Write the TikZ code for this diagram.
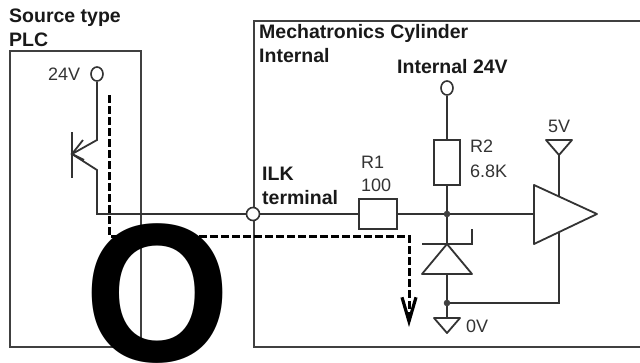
\documentclass[tikz,border=0pt]{standalone}
\usepackage{fontspec}
\setmainfont{Liberation Sans}
\usetikzlibrary{arrows.meta,shapes.geometric}
\tikzset{
	wire/.style={draw=black!80,line width=1.8pt},
	boxline/.style={draw=black!75,line width=1.8pt},
	flow/.style={draw=black,line width=3pt,dash pattern=on 8pt off 3pt},
	pin/.style={ellipse,draw=black!80,line width=1.6pt,fill=white,minimum width=12pt,minimum height=14pt,inner sep=0pt},
	dot/.style={circle,draw=black!80,fill=black!75,minimum size=6pt,inner sep=0pt},
	res/.style={rectangle,draw=black!80,line width=1.6pt,fill=white,inner sep=0pt},
	head/.style={anchor=base west,inner sep=0pt,text=black!90,font=\fontsize{19.5}{19.5}\selectfont\bfseries},
	lab/.style={anchor=base west,inner sep=0pt,text=black!80,font=\fontsize{18}{18}\selectfont}
}
\begin{document}
\begin{tikzpicture}[x=1pt,y=-1pt]
	\useasboundingbox (0,0) rectangle (640,362);
	\fill[white] (0,0) rectangle (640,362);
	\draw[boxline] (10,51) rectangle (141,347);
	\draw[boxline] (640,21) -- (254,21) -- (254,347) -- (640,347);
	\node[head] (srctext) at (9,22) {Source type};
	\node[head] (plctext) at (9,46) {PLC};
	\node[head] (mectext) at (259,38) {Mechatronics Cylinder};
	\node[head] (inttext) at (259,62) {Internal};
	\node[head] (v24text) at (397,73) {Internal 24V};
	\node[head] (ilktext) at (262,180) {ILK};
	\node[head] (termtext) at (262,204) {terminal};
	\node[lab] (plcv) at (48,80) {24V};
	\node[lab] (r2text) at (470,152) {R2};
	\node[lab] (r2val) at (470,177) {6.8K};
	\node[lab] (r1text) at (361,168) {R1};
	\node[lab] (r1val) at (361,191) {100};
	\node[lab] (v5text) at (548,132) {5V};
	\node[lab] (v0text) at (466,332) {0V};
	\coordinate (colt) at (97,140);
	\coordinate (emit) at (97,170);
	\coordinate (basept) at (72,154);
	\coordinate (wirecorner) at (97,214);
	\coordinate (ampin) at (534,214);
	\coordinate (ampret) at (559,303);
	\coordinate (v5tip) at (559,155);
	\coordinate (zapex) at (447,244);
	\coordinate (zbase) at (447,274);
	\coordinate (v0top) at (447,318);
	\node[pin] (plcpin) at (97,74) {};
	\node[pin] (intpin) at (447,88) {};
	\node[dot] (jtop) at (447,214) {};
	\node[dot] (jbot) at (447,303) {};
	\node[res,minimum width=38pt,minimum height=30pt] (r1) at (378,214) {};
	\node[res,minimum width=26pt,minimum height=45pt] (r2) at (447,162.5) {};
	\draw[wire] (plcpin) -- (colt) -- (basept) -- (emit) -- (wirecorner) -- (r1);
	\draw[wire] (72,132) -- (72,178);
	\draw[wire] (basept) -- (83,140) (basept) -- (84,160);
	\draw[wire] (intpin) -- (r2);
	\draw[wire] (r2) -- (jtop);
	\draw[wire] (r1) -- (jtop) -- (ampin);
	\draw[wire] (jtop) -- (zapex);
	\draw[wire] (zbase) -- (jbot) -- (v0top);
	\draw[wire] (v5tip) -- (ampret) -- (jbot);
	\draw[wire] (422,244) -- (472,244) -- (472,229);
	\draw[wire,line join=round] (zapex) -- (472,274) -- (422,274) -- cycle;
	\draw[wire,line join=round] (v5tip) -- (546,140) -- (572,140) -- cycle;
	\draw[wire,line join=round] (v0top) -- (460,318) -- (447,333) -- (434,318) -- cycle;
	\draw[wire,fill=white,line join=round] (534,185) -- (597,214) -- (534,244) -- cycle;
	\coordinate (flowtop) at (109,95);
	\coordinate (flowa) at (109,236);
	\coordinate (flowb) at (409,236);
	\coordinate (flowend) at (409,327);
	\draw[flow,-{Straight Barb[length=24pt,width=14pt,line width=3.2pt]}] (flowtop) -- (flowa) -- (flowb) -- (flowend);
	\node[pin,minimum width=13pt,minimum height=13pt] (ilk) at (253,214) {};
	\node[inner sep=0pt,text=black,font=\fontsize{188}{188}\selectfont\bfseries] (bigo) at (157.5,293.5) {\scalebox{1}[1.05]{O}};
\end{tikzpicture}
\end{document}
